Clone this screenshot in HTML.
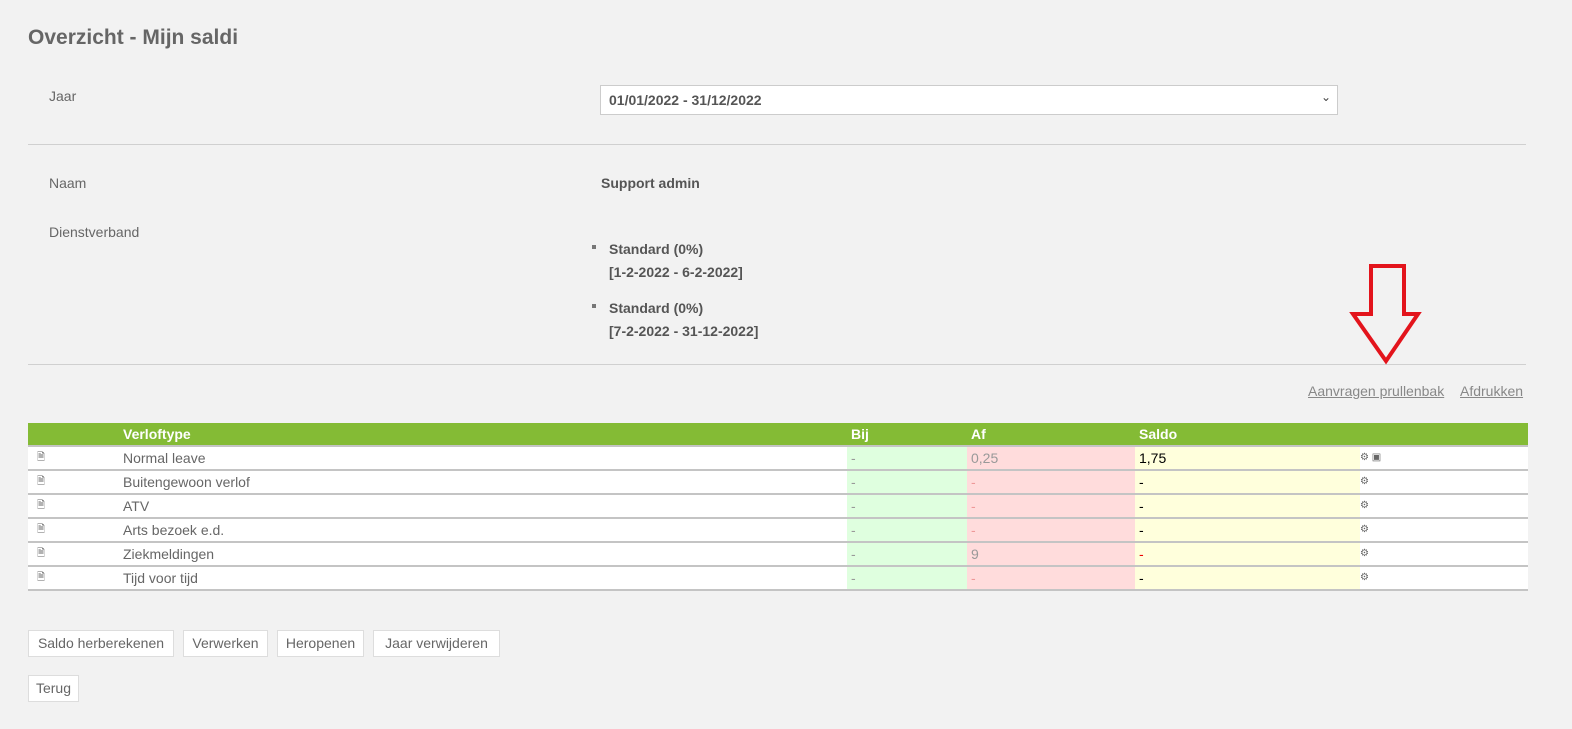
<!DOCTYPE html>
<html><head><meta charset="utf-8"><style>
body{margin:0;width:1572px;height:729px;background:#f2f2f2;font-family:"Liberation Sans",sans-serif;color:#666;position:relative;overflow:hidden}
.a{position:absolute;white-space:nowrap}
.b{font-weight:bold}
.hr{position:absolute;left:28px;width:1498px;height:1px;background:#d0d0d0}
.btn{position:absolute;height:27px;background:#fff;border:1px solid #ddd;box-sizing:border-box;font-size:14px;line-height:25px;text-align:center;color:#666}
.row{position:absolute;left:28px;width:1500px;height:24px;background:#fff;border-bottom:2px solid #c4c4c4;box-sizing:border-box;font-size:14px;line-height:22px}
.row div{position:absolute;top:0;height:22px}
</style></head><body>
<div class="a b" style="left:28px;top:26px;font-size:21px;color:#666">Overzicht - Mijn saldi</div>
<div class="a" style="left:49px;top:88px;font-size:14px">Jaar</div>
<div class="a" style="left:600px;top:85px;width:738px;height:30px;background:#fff;border:1px solid #ccc;box-sizing:border-box"></div>
<div class="a b" style="left:609px;top:92px;font-size:14px;color:#555">01/01/2022 - 31/12/2022</div>
<div class="a" style="left:1321px;top:90px;font-size:12px;color:#444">&#8964;</div>
<div class="hr" style="top:144px"></div>
<div class="a" style="left:49px;top:175px;font-size:14px">Naam</div>
<div class="a b" style="left:601px;top:175px;font-size:14px;color:#555">Support admin</div>
<div class="a" style="left:49px;top:224px;font-size:14px">Dienstverband</div>
<div class="a" style="left:592px;top:245px;width:4px;height:4px;background:#777"></div>
<div class="a b" style="left:609px;top:238px;font-size:14px;line-height:23px;color:#555">Standard (0%)<br>[1-2-2022 - 6-2-2022]</div>
<div class="a" style="left:592px;top:304px;width:4px;height:4px;background:#777"></div>
<div class="a b" style="left:609px;top:297px;font-size:14px;line-height:23px;color:#555">Standard (0%)<br>[7-2-2022 - 31-12-2022]</div>
<div class="hr" style="top:364px"></div>
<svg class="a" style="left:1345px;top:262px" width="80" height="105"><polygon points="26,4 59,4 59,52 73,52 41,99 8,52 26,52" fill="none" stroke="#e3141c" stroke-width="4"/></svg>
<div class="a" style="left:1308px;top:383px;font-size:14px;color:#888;text-decoration:underline">Aanvragen prullenbak</div>
<div class="a" style="left:1460px;top:383px;font-size:14px;color:#888;text-decoration:underline">Afdrukken</div>
<div class="a" style="left:28px;top:423px;width:1500px;height:24px;background:#84bb35;border-bottom:2px solid #c4c4c4;box-sizing:border-box;color:#fff;font-weight:bold;font-size:14px;line-height:22px">
<span class="a" style="left:95px">Verloftype</span><span class="a" style="left:823px">Bij</span><span class="a" style="left:943px">Af</span><span class="a" style="left:1111px">Saldo</span></div>
<div class="row" style="top:447px"><div style="left:9px;font-size:10px">&#128462;</div><div style="left:95px">Normal leave</div><div style="left:819px;width:120px;background:#dfffdf;padding-left:4px;color:#999">-</div><div style="left:939px;width:168px;background:#ffdcdc;padding-left:4px;color:#999">0,25</div><div style="left:1107px;width:221px;background:#ffffdc;padding-left:4px;color:#000">1,75</div><div style="left:1332px;font-size:10px">&#9881; &#9635;</div></div>
<div class="row" style="top:471px"><div style="left:9px;font-size:10px">&#128462;</div><div style="left:95px">Buitengewoon verlof</div><div style="left:819px;width:120px;background:#dfffdf;padding-left:4px;color:#999">-</div><div style="left:939px;width:168px;background:#ffdcdc;padding-left:4px;color:#e99">-</div><div style="left:1107px;width:221px;background:#ffffdc;padding-left:4px;color:#000">-</div><div style="left:1332px;font-size:10px">&#9881;</div></div>
<div class="row" style="top:495px"><div style="left:9px;font-size:10px">&#128462;</div><div style="left:95px">ATV</div><div style="left:819px;width:120px;background:#dfffdf;padding-left:4px;color:#999">-</div><div style="left:939px;width:168px;background:#ffdcdc;padding-left:4px;color:#e99">-</div><div style="left:1107px;width:221px;background:#ffffdc;padding-left:4px;color:#000">-</div><div style="left:1332px;font-size:10px">&#9881;</div></div>
<div class="row" style="top:519px"><div style="left:9px;font-size:10px">&#128462;</div><div style="left:95px">Arts bezoek e.d.</div><div style="left:819px;width:120px;background:#dfffdf;padding-left:4px;color:#999">-</div><div style="left:939px;width:168px;background:#ffdcdc;padding-left:4px;color:#e99">-</div><div style="left:1107px;width:221px;background:#ffffdc;padding-left:4px;color:#000">-</div><div style="left:1332px;font-size:10px">&#9881;</div></div>
<div class="row" style="top:543px"><div style="left:9px;font-size:10px">&#128462;</div><div style="left:95px">Ziekmeldingen</div><div style="left:819px;width:120px;background:#dfffdf;padding-left:4px;color:#999">-</div><div style="left:939px;width:168px;background:#ffdcdc;padding-left:4px;color:#999">9</div><div style="left:1107px;width:221px;background:#ffffdc;padding-left:4px;color:#e00">-</div><div style="left:1332px;font-size:10px">&#9881;</div></div>
<div class="row" style="top:567px"><div style="left:9px;font-size:10px">&#128462;</div><div style="left:95px">Tijd voor tijd</div><div style="left:819px;width:120px;background:#dfffdf;padding-left:4px;color:#999">-</div><div style="left:939px;width:168px;background:#ffdcdc;padding-left:4px;color:#e99">-</div><div style="left:1107px;width:221px;background:#ffffdc;padding-left:4px;color:#000">-</div><div style="left:1332px;font-size:10px">&#9881;</div></div>
<div class="btn" style="left:28px;top:630px;width:146px">Saldo herberekenen</div>
<div class="btn" style="left:183px;top:630px;width:85px">Verwerken</div>
<div class="btn" style="left:277px;top:630px;width:87px">Heropenen</div>
<div class="btn" style="left:373px;top:630px;width:127px">Jaar verwijderen</div>
<div class="btn" style="left:28px;top:675px;width:51px">Terug</div>
</body></html>
